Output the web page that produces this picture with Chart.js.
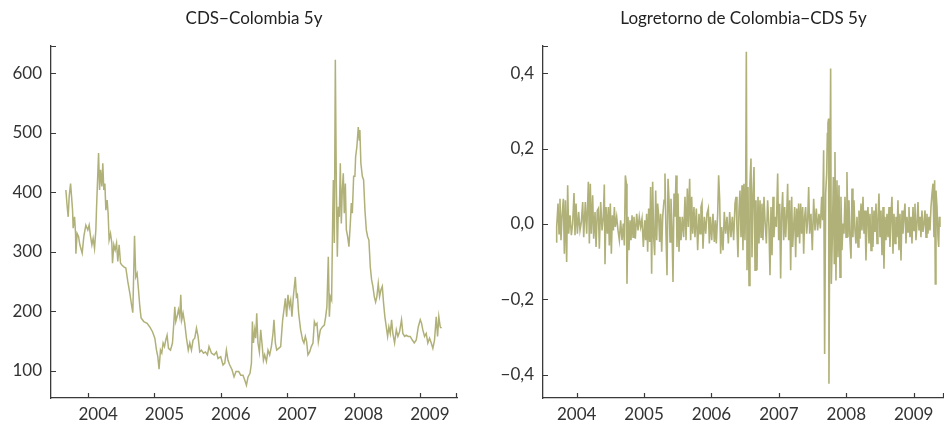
<!DOCTYPE html>
<html>
<head>
<meta charset="utf-8">
<script src="https://cdn.jsdelivr.net/npm/chart.js@4/dist/chart.umd.min.js"></script>
<style>
  body { margin: 0; background: #fff; }
  #wrap { position: relative; width: 944px; height: 425px; }
  #left { position: absolute; left: 0; top: 0; }
  #right { position: absolute; left: 472px; top: 0; }
</style>
</head>
<body>
<div id="wrap">
  <canvas id="left" width="472" height="425"></canvas>
  <canvas id="right" width="472" height="425"></canvas>
</div>
<script>
// years (decimal) and CDS level
const cdsYears = [
  2003.664,2003.684,2003.699,2003.714,2003.735,2003.750,2003.765,2003.774,2003.795,2003.810,
  2003.815,2003.834,2003.855,2003.875,2003.910,2003.935,2003.965,2003.995,2004.015,2004.036,
  2004.056,2004.075,2004.096,2004.116,2004.127,2004.142,2004.157,2004.172,2004.187,2004.206,
  2004.221,2004.236,2004.252,2004.267,2004.286,2004.301,2004.316,2004.337,2004.357,2004.367,
  2004.387,2004.407,2004.428,2004.447,2004.467,2004.488,2004.508,2004.538,2004.568,2004.598,
  2004.628,2004.658,2004.673,2004.688,2004.699,2004.718,2004.738,2004.759,2004.779,2004.798,
  2004.839,2004.889,2004.929,2004.970,2005.005,2005.030,2005.050,2005.069,2005.090,2005.110,
  2005.130,2005.151,2005.170,2005.190,2005.211,2005.241,2005.271,2005.291,2005.306,2005.321,
  2005.340,2005.361,2005.381,2005.396,2005.411,2005.431,2005.456,2005.482,2005.509,2005.532,
  2005.557,2005.581,2005.607,2005.633,2005.657,2005.682,2005.708,2005.738,2005.768,2005.798,
  2005.822,2005.858,2005.898,2005.934,2005.958,2005.998,2006.033,2006.059,2006.084,2006.108,
  2006.134,2006.169,2006.199,2006.229,2006.270,2006.300,2006.334,2006.360,2006.386,2006.410,
  2006.440,2006.461,2006.476,2006.491,2006.511,2006.526,2006.541,2006.560,2006.581,2006.601,
  2006.620,2006.642,2006.661,2006.687,2006.711,2006.736,2006.762,2006.786,2006.801,2006.822,
  2006.842,2006.872,2006.902,2006.932,2006.952,2006.973,2006.992,2007.012,2007.033,2007.053,
  2007.072,2007.093,2007.108,2007.123,2007.139,2007.154,2007.173,2007.203,2007.233,2007.253,
  2007.274,2007.294,2007.313,2007.339,2007.364,2007.389,2007.410,2007.429,2007.449,2007.470,
  2007.500,2007.530,2007.560,2007.580,2007.599,2007.620,2007.636,2007.651,2007.670,2007.685,
  2007.696,2007.711,2007.726,2007.741,2007.756,2007.771,2007.786,2007.801,2007.816,2007.831,
  2007.846,2007.861,2007.877,2007.892,2007.911,2007.931,2007.952,2007.967,2007.982,2008.002,
  2008.021,2008.032,2008.051,2008.072,2008.087,2008.096,2008.111,2008.133,2008.152,2008.172,
  2008.193,2008.212,2008.232,2008.253,2008.273,2008.292,2008.313,2008.333,2008.352,2008.373,
  2008.393,2008.413,2008.434,2008.453,2008.473,2008.494,2008.514,2008.533,2008.554,2008.574,
  2008.593,2008.619,2008.645,2008.669,2008.694,2008.724,2008.744,2008.770,2008.795,2008.825,
  2008.855,2008.886,2008.916,2008.946,2008.976,2009.006,2009.026,2009.045,2009.071,2009.096,
  2009.120,2009.146,2009.172,2009.196,2009.221,2009.247,2009.267,2009.286,2009.307,2009.327
];
const cdsValues = [
  404,376,359,393,415,393,370,340,359,331,
  297,331,326,312,298,326,345,337,345,326,
  312,323,306,337,376,421,466,404,438,410,
  449,404,415,370,387,365,320,331,315,281,
  312,303,315,284,312,281,278,275,273,250,
  231,208,198,270,327,258,264,236,208,189,
  183,180,174,166,155,135,124,103,135,130,
  147,141,152,160,138,135,147,180,208,183,
  191,203,191,228,186,197,180,155,135,147,
  135,152,155,172,158,132,135,130,132,127,
  141,130,127,132,121,124,110,113,135,118,
  110,102,90,99,99,93,93,85,76,90,
  96,113,183,147,169,155,197,147,132,169,
  147,118,127,116,135,127,141,163,186,147,
  135,138,141,186,203,222,191,228,208,219,
  191,225,242,258,225,228,197,169,152,147,
  158,149,127,132,141,147,183,177,180,149,
  169,174,177,191,208,292,191,225,219,348,
  421,315,623,415,292,376,359,449,348,404,
  432,365,415,337,326,309,348,382,365,427,
  427,460,477,510,488,505,449,427,421,371,
  337,326,320,275,253,242,225,216,225,247,
  225,236,242,214,191,174,158,174,163,186,
  163,147,169,158,166,186,163,158,160,158,
  158,152,147,152,174,186,180,169,158,163,
  147,155,147,138,152,191,158,191,174,172
];

// years (decimal) and log-returns
const retYears = [
  2003.693,2003.703,2003.723,2003.738,2003.752,2003.767,2003.782,2003.802,2003.817,2003.832,
  2003.851,2003.866,2003.881,2003.901,2003.921,2003.940,2003.960,2003.975,2003.990,2004.010,
  2004.029,2004.049,2004.069,2004.089,2004.104,2004.128,2004.148,2004.173,2004.188,2004.202,
  2004.217,2004.237,2004.252,2004.272,2004.287,2004.306,2004.321,2004.336,2004.356,2004.376,
  2004.395,2004.410,2004.420,2004.435,2004.455,2004.470,2004.484,2004.499,2004.514,2004.529,
  2004.544,2004.559,2004.573,2004.593,2004.613,2004.633,2004.652,2004.672,2004.692,2004.707,
  2004.722,2004.737,2004.746,2004.761,2004.776,2004.791,2004.806,2004.821,2004.836,2004.850,
  2004.870,2004.890,2004.910,2004.929,2004.949,2004.969,2004.989,2005.009,2005.023,2005.038,
  2005.053,2005.068,2005.083,2005.097,2005.112,2005.127,2005.142,2005.157,2005.172,2005.187,
  2005.201,2005.216,2005.231,2005.246,2005.261,2005.276,2005.296,2005.310,2005.325,2005.340,
  2005.355,2005.370,2005.385,2005.399,2005.414,2005.429,2005.444,2005.459,2005.474,2005.488,
  2005.503,2005.518,2005.533,2005.548,2005.567,2005.587,2005.607,2005.622,2005.642,2005.656,
  2005.676,2005.691,2005.706,2005.721,2005.740,2005.755,2005.775,2005.795,2005.815,2005.830,
  2005.844,2005.859,2005.874,2005.894,2005.914,2005.933,2005.953,2005.968,2005.983,2006.003,
  2006.022,2006.042,2006.057,2006.072,2006.092,2006.106,2006.121,2006.136,2006.151,2006.171,
  2006.190,2006.210,2006.230,2006.250,2006.270,2006.289,2006.309,2006.329,2006.349,2006.364,
  2006.378,2006.393,2006.408,2006.423,2006.438,2006.453,2006.467,2006.482,2006.497,2006.507,
  2006.517,2006.527,2006.542,2006.557,2006.571,2006.586,2006.601,2006.616,2006.631,2006.646,
  2006.660,2006.675,2006.690,2006.705,2006.720,2006.735,2006.749,2006.764,2006.779,2006.794,
  2006.814,2006.833,2006.853,2006.868,2006.883,2006.898,2006.913,2006.927,2006.942,2006.962,
  2006.982,2006.997,2007.012,2007.026,2007.041,2007.056,2007.071,2007.086,2007.101,2007.115,
  2007.130,2007.145,2007.160,2007.175,2007.190,2007.204,2007.219,2007.234,2007.249,2007.264,
  2007.279,2007.293,2007.308,2007.323,2007.338,2007.353,2007.368,2007.382,2007.397,2007.412,
  2007.427,2007.442,2007.457,2007.476,2007.496,2007.516,2007.536,2007.555,2007.575,2007.595,
  2007.615,2007.635,2007.649,2007.664,2007.679,2007.694,2007.709,2007.719,2007.728,2007.738,
  2007.743,2007.758,2007.768,2007.778,2007.793,2007.808,2007.822,2007.832,2007.847,2007.862,
  2007.877,2007.892,2007.907,2007.921,2007.936,2007.951,2007.966,2007.981,2007.996,2008.010,
  2008.025,2008.040,2008.055,2008.070,2008.085,2008.099,2008.114,2008.129,2008.144,2008.159,
  2008.174,2008.188,2008.203,2008.218,2008.233,2008.248,2008.263,2008.278,2008.292,2008.307,
  2008.322,2008.337,2008.352,2008.367,2008.381,2008.396,2008.411,2008.426,2008.441,2008.456,
  2008.470,2008.485,2008.500,2008.515,2008.530,2008.545,2008.559,2008.574,2008.589,2008.604,
  2008.619,2008.634,2008.648,2008.663,2008.678,2008.693,2008.708,2008.723,2008.737,2008.752,
  2008.767,2008.782,2008.797,2008.812,2008.827,2008.841,2008.856,2008.871,2008.886,2008.901,
  2008.916,2008.930,2008.945,2008.960,2008.975,2008.990,2009.005,2009.019,2009.034,2009.049,
  2009.064,2009.079,2009.094,2009.108,2009.123,2009.138,2009.153,2009.168,2009.183,2009.197,
  2009.212,2009.227,2009.242,2009.257,2009.272,2009.287,2009.301,2009.311,2009.321,2009.331,
  2009.346,2009.361,2009.371,2009.380,2009.390
];
const retValues = [
  -0.048,-0.008,0.054,-0.026,0.067,-0.043,0.019,0.067,-0.079,0.063,
  -0.101,0.103,-0.026,0.023,-0.030,0.001,0.082,-0.030,0.054,-0.026,
  0.032,-0.017,0.005,0.058,-0.035,0.058,-0.026,0.112,-0.052,0.107,
  -0.026,0.076,-0.039,0.032,-0.061,0.036,0.041,-0.066,0.058,-0.017,
  0.019,0.105,-0.107,0.045,-0.026,0.045,-0.057,0.054,-0.079,0.023,
  -0.017,0.045,-0.008,0.019,-0.017,-0.043,0.010,-0.043,0.001,-0.057,
  0.129,0.107,-0.159,0.019,-0.070,0.010,-0.043,0.023,-0.035,0.019,
  -0.039,0.027,-0.017,0.019,-0.008,0.014,-0.061,0.010,-0.043,0.027,
  -0.074,0.041,-0.048,0.098,-0.132,0.112,-0.035,-0.083,0.089,-0.043,
  0.054,0.023,-0.048,0.027,-0.074,0.019,0.063,0.134,-0.026,-0.136,
  0.120,0.063,-0.048,0.067,-0.008,-0.154,0.081,0.019,0.129,-0.061,
  0.081,-0.074,0.019,-0.043,0.019,-0.035,0.072,-0.043,0.094,-0.008,
  0.120,-0.043,0.072,-0.026,0.045,-0.035,0.041,-0.070,0.027,-0.026,
  0.045,0.056,-0.066,0.019,-0.026,0.027,0.041,-0.052,0.019,-0.043,
  0.027,-0.048,0.010,-0.052,0.027,0.129,0.067,-0.079,-0.008,-0.070,
  0.032,-0.026,0.019,-0.052,0.032,-0.035,0.019,-0.043,0.054,0.072,
  -0.008,-0.088,0.036,0.089,-0.035,0.103,-0.070,0.107,-0.043,0.072,
  0.457,-0.123,0.098,-0.163,0.107,0.174,-0.088,0.081,0.151,-0.123,
  0.063,-0.123,0.072,-0.052,0.063,-0.035,0.054,-0.043,0.072,0.010,
  -0.052,0.063,-0.008,-0.136,0.045,-0.083,0.072,-0.035,0.019,-0.008,
  0.134,-0.043,0.054,-0.145,0.027,0.085,-0.043,0.045,-0.035,0.019,
  0.107,-0.043,0.063,-0.123,0.072,-0.061,-0.008,0.045,-0.088,0.041,
  -0.035,0.054,-0.052,0.054,-0.026,0.045,-0.079,0.019,0.045,-0.026,
  0.010,0.098,-0.026,0.027,-0.070,0.067,-0.017,0.041,-0.017,0.027,
  -0.012,0.072,0.010,0.196,-0.345,0.081,0.134,0.240,0.267,0.280,
  -0.424,0.125,0.413,-0.159,-0.035,0.125,-0.105,0.191,-0.150,0.116,
  -0.088,0.103,-0.141,0.072,-0.070,0.001,-0.026,0.072,-0.035,0.138,
  -0.035,0.063,-0.043,-0.092,0.094,-0.035,0.063,-0.017,-0.052,0.019,
  -0.061,0.036,-0.039,0.054,-0.017,0.072,-0.026,0.036,-0.097,0.010,
  0.045,-0.052,0.027,-0.070,0.045,-0.061,0.036,-0.021,0.054,-0.052,
  0.010,0.081,-0.035,0.036,-0.083,0.045,-0.119,0.019,-0.043,0.027,
  -0.035,0.045,-0.061,0.019,0.072,-0.079,0.027,-0.052,0.019,-0.035,
  0.063,-0.070,0.027,-0.097,0.036,-0.026,0.019,0.054,-0.052,0.019,
  -0.021,0.045,-0.035,0.019,-0.052,0.045,-0.017,0.054,-0.043,0.001,
  0.058,-0.017,0.019,-0.035,0.036,-0.021,0.001,0.036,-0.035,0.027,
  -0.026,0.019,-0.017,0.045,0.081,0.107,-0.035,0.116,-0.159,0.089,
  0.045,-0.035,-0.061,0.019,-0.008
];

const yearTicks = [2004, 2005, 2006, 2007, 2008, 2009];
const cdsTicks = [100, 200, 300, 400, 500, 600];
const retTicks = [-0.4, -0.2, 0, 0.2, 0.4];
const retTickLabels = ['\u22120,4', '\u22120,2', '0,0', '0,2', '0,4'];

const LINE = '#b0b178';
const AXIS = '#3a3a3a';
const FONT = 'Lato, "Open Sans", sans-serif';

// small ticks pointing into the plot, plus the caps at the axis ends
const inwardTicks = {
  id: 'inwardTicks',
  afterDraw(chart) {
    const ctx = chart.ctx;
    const a = chart.chartArea;
    const x = chart.scales.x, y = chart.scales.y;
    ctx.save();
    ctx.strokeStyle = AXIS;
    ctx.lineWidth = 1.2;
    ctx.beginPath();
    x.ticks.forEach(t => {
      const px = Math.round(x.getPixelForValue(t.value)) + 0.5;
      ctx.moveTo(px, a.bottom); ctx.lineTo(px, a.bottom - 5);
    });
    y.ticks.forEach(t => {
      const py = Math.round(y.getPixelForValue(t.value)) + 0.5;
      ctx.moveTo(a.left, py); ctx.lineTo(a.left + 5, py);
    });
    ctx.moveTo(a.left, a.top + 0.5); ctx.lineTo(a.left + 5, a.top + 0.5);
    ctx.moveTo(a.right - 0.5, a.bottom); ctx.lineTo(a.right - 0.5, a.bottom - 5);
    ctx.stroke();
    ctx.restore();
  }
};

function makeChart(id, cfg) {
  return new Chart(document.getElementById(id), {
    type: 'line',
    data: {
      datasets: [{
        data: cfg.xs.map((v, i) => ({ x: v, y: cfg.ys[i] })),
        borderColor: LINE,
        borderWidth: cfg.lineWidth,
        pointRadius: 0,
        tension: 0,
        fill: false
      }]
    },
    options: {
      responsive: false,
      animation: false,
      events: [],
      layout: { padding: { left: 0, right: cfg.padRight, top: 0, bottom: 0 } },
      plugins: {
        legend: { display: false },
        tooltip: { enabled: false },
        title: {
          display: true,
          text: cfg.title,
          fullSize: false,
          color: '#222',
          font: { family: FONT, size: 17, weight: 'normal' },
          padding: { top: 8, bottom: 17.6 }
        }
      },
      scales: {
        x: {
          type: 'linear',
          min: cfg.xMin,
          max: cfg.xMax,
          afterBuildTicks: s => { s.ticks = yearTicks.map(v => ({ value: v })); },
          afterFit: s => { s.height = 27; },
          grid: { drawOnChartArea: false, drawTicks: false },
          border: { display: true, color: AXIS, width: 1.3 },
          ticks: {
            color: '#333',
            font: { family: FONT, size: 17 },
            padding: 6,
            labelOffset: cfg.labelOffset,
            maxRotation: 0,
            autoSkip: false,
            callback: (v, i) => String(yearTicks[i])
          }
        },
        y: {
          type: 'linear',
          min: cfg.yMin,
          max: cfg.yMax,
          afterBuildTicks: s => { s.ticks = cfg.yTicks.map(v => ({ value: v })); },
          afterFit: s => { s.width = cfg.yWidth; },
          grid: { drawOnChartArea: false, drawTicks: false },
          border: { display: true, color: AXIS, width: 1.3 },
          ticks: {
            color: '#333',
            font: { family: FONT, size: 17 },
            padding: 9,
            autoSkip: false,
            callback: (v, i) => cfg.yLabels[i]
          }
        }
      }
    },
    plugins: [inwardTicks]
  });
}

makeChart('left', {
  title: 'CDS\u2212Colombia 5y',
  xs: cdsYears, ys: cdsValues,
  xMin: 2003.44, xMax: 2009.56,
  yMin: 54.6, yMax: 646,
  yTicks: cdsTicks, yLabels: cdsTicks.map(String),
  yWidth: 51, padRight: 15, labelOffset: 10, lineWidth: 1.5
});

makeChart('right', {
  title: 'Logretorno de Colombia\u2212CDS 5y',
  xs: retYears, ys: retValues,
  xMin: 2003.5, xMax: 2009.45,
  yMin: -0.462, yMax: 0.4725,
  yTicks: retTicks, yLabels: retTickLabels,
  yWidth: 71, padRight: 0, labelOffset: 0, lineWidth: 1.6
});
</script>
</body>
</html>
